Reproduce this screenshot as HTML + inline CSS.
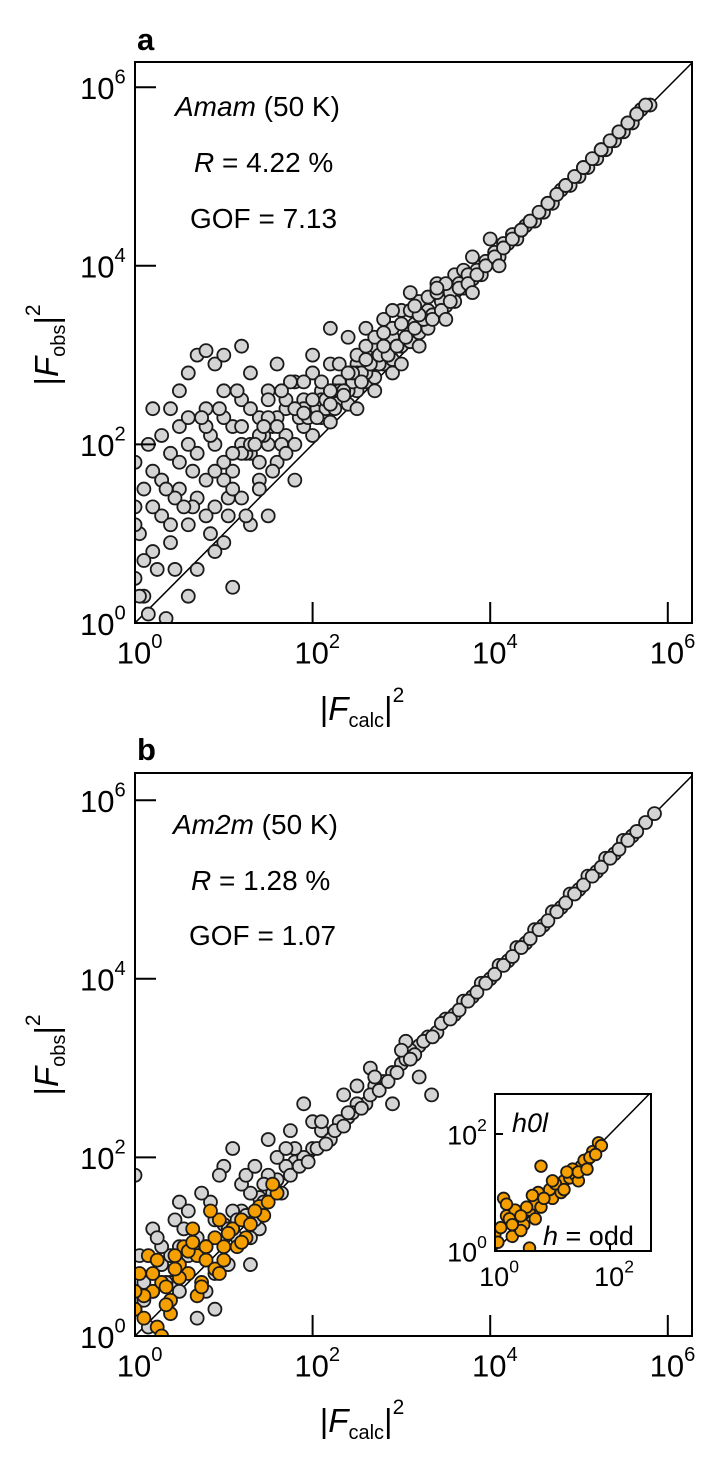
<!DOCTYPE html>
<html><head><meta charset="utf-8"><style>
body{margin:0;background:#fff}
svg{display:block;font-family:"Liberation Sans",Arial,sans-serif}
</style></head><body>
<svg id="fig" width="709" height="1459" viewBox="0 0 709 1459"></svg>
<script>
// log10 values (x = |Fcalc|^2, y = |Fobs|^2)
const ticksMain=[0,2,4,6];
const ticksInset=[0,2];
const aX=[2.0,2.1,2.2,2.3,2.4,2.5,2.6,2.7,2.8,2.9,3.0,3.1,3.2,3.3,3.4,3.5,3.6,3.7,3.8,3.9,4.0,4.1,4.2,4.3,4.4,4.5,4.6,4.7,4.8,4.9,5.0,5.1,5.2,5.3,5.4,5.5,5.6,5.7,5.8,
2.2,2.4,2.5,2.6,2.7,2.8,2.9,3.0,3.1,3.2,3.3,3.4,3.5,3.6,3.7,3.8,4.0,2.3,2.1,2.0,1.9,1.8,1.7,1.6,1.5,1.4,1.3,1.2,1.1,1.0,0.9,0.8,0.7,0.6,0.5,0.4,0.3,0.2,0.1,0.05,0.0,0.1,0.2,0.3,0.4,0.5,0.6,0.7,0.8,0.9,1.0,1.1,1.2,1.3,1.4,1.5,1.6,1.7,1.8,1.9,1.1,0.35,0.7,0.9,1.0,0.8,1.2,1.6,2.0,2.2,2.4,1.5,1.3,0.6,0.15,0.0,0.0,0.5,0.4,1.8,2.6,2.9,3.1,
1.25,1.45,1.65,1.85,2.05,2.25,2.45,2.65,2.85,3.05,3.25,3.45,3.65,3.85,4.05,4.25,4.45,4.65,4.85,5.05,5.25,5.45,5.65,1.0,1.2,1.4,0.6,0.8,0.3,0.2,0.9,1.7,1.9,2.1,2.3,2.5,2.7,0.45,0.65,0.85,1.05,1.55,1.75,1.95,2.15,2.35,2.55,2.75,2.95,3.15,3.35,3.55,3.75,3.95,4.15,4.35,
2.05,2.15,2.25,2.35,2.45,2.55,2.65,2.75,2.85,2.95,3.05,3.15,3.25,3.35,3.45,3.55,3.65,3.75,3.85,3.95,4.05,4.15,4.25,4.35,4.45,4.55,4.65,4.75,4.85,4.95,5.05,5.15,5.25,5.35,5.45,5.55,5.65,5.75,
1.0,1.1,1.2,1.3,1.4,1.5,1.6,1.7,1.8,1.9,2.0,2.1,2.2,2.3,2.4,2.5,2.6,2.7,2.8,2.9,3.0,3.1,3.2,3.3,3.4,3.5,
0.0,0.1,0.2,0.3,0.4,0.5,0.6,0.7,0.8,0.9,1.0,1.1,1.2,1.3,1.4,1.5,0.05,0.25,0.45,0.65,0.85,1.05,1.25,1.45,0.15,0.35,0.55,0.75,0.95,1.15,1.35,1.55,
2.5,2.7,2.9,3.0,3.2,3.5,3.8,4.1,2.2,2.35,2.6,2.8,3.15,3.4,1.9,1.65];
const aY=[2.1,2.3,2.25,2.5,2.45,2.6,2.7,2.75,2.9,2.95,3.1,3.15,3.25,3.3,3.45,3.55,3.6,3.75,3.85,3.9,4.05,4.1,4.25,4.3,4.45,4.5,4.6,4.7,4.85,4.9,5.0,5.1,5.2,5.3,5.4,5.5,5.6,5.75,5.8,
2.9,3.2,2.9,3.3,3.1,3.4,3.2,3.5,3.3,3.6,3.5,3.8,3.7,3.9,3.95,4.1,4.3,2.7,2.6,2.8,2.5,2.7,2.4,2.9,2.6,2.3,2.8,2.5,2.2,2.6,2.9,2.4,3.0,2.8,2.2,1.9,2.1,1.7,1.5,1.0,0.5,0.3,0.8,1.2,0.9,1.5,1.1,0.6,1.6,1.3,0.9,1.7,1.4,1.9,1.6,2.0,1.8,2.1,2.0,2.2,0.4,0.05,1.9,2.0,3.0,3.05,3.1,2.3,3.0,3.3,2.6,1.2,1.1,0.3,0.1,1.3,1.8,2.6,2.4,1.6,2.8,3.5,3.7,
1.9,2.1,2.0,2.3,2.4,2.6,2.7,2.9,3.0,3.2,3.4,3.6,3.8,3.95,4.15,4.35,4.5,4.7,4.9,5.1,5.3,5.5,5.7,1.8,2.0,1.5,2.3,1.2,1.6,2.4,0.8,1.9,2.4,2.5,2.6,2.8,2.95,1.4,1.7,2.1,1.4,2.2,2.7,2.3,2.4,2.6,2.8,2.9,3.1,3.35,3.45,3.7,3.9,4.05,4.25,4.4,
2.3,2.5,2.4,2.6,2.8,2.7,2.9,3.0,3.0,3.1,3.2,3.3,3.4,3.4,3.5,3.6,3.75,3.8,3.9,4.0,4.1,4.2,4.3,4.4,4.5,4.6,4.7,4.8,4.9,5.0,5.1,5.2,5.3,5.4,5.5,5.6,5.7,5.8,
1.6,1.5,1.9,2.0,2.1,2.3,2.2,2.5,2.4,2.7,2.5,2.7,2.6,2.9,2.8,3.0,3.1,3.2,3.1,3.3,3.35,3.5,3.45,3.65,3.7,3.8,
1.1,0.7,1.3,1.6,1.1,1.8,2.0,1.4,2.2,1.7,2.3,1.9,2.2,2.4,1.8,2.5,0.3,0.6,0.6,1.3,1.0,1.2,1.2,2.2,2.0,1.5,1.3,2.3,2.4,2.6,2.0,1.7,
2.4,2.6,2.8,2.9,3.1,3.4,3.7,4.0,2.45,2.55,2.95,3.25,3.55,3.75,2.35,2.6];
const bX=[0.0,0.2,0.4,0.6,0.8,1.0,1.2,1.4,1.6,1.8,2.0,2.2,2.4,2.6,2.8,3.0,3.2,3.4,3.6,3.8,4.0,4.2,4.4,4.6,4.8,5.0,5.2,5.4,5.6,5.75,
0.1,0.3,0.5,0.7,0.9,1.1,1.3,1.5,1.7,1.9,2.1,2.3,2.5,2.7,2.9,3.1,3.3,3.5,3.7,3.9,4.1,4.3,4.5,4.7,4.9,5.1,5.3,5.5,
0.2,0.5,0.8,1.0,1.2,1.5,1.8,2.0,1.3,0.9,0.6,0.4,1.6,1.9,0.3,1.1,3.34,2.9,3.2,2.2,2.5,1.4,0.0,0.7,0.15,1.75,2.35,2.65,3.05,
1.05,1.15,1.25,1.35,1.45,1.55,1.65,1.75,1.85,1.95,2.05,2.15,2.25,2.35,2.45,2.55,2.65,2.75,2.85,2.95,3.05,3.15,3.25,3.35,3.45,3.55,3.65,3.75,3.85,3.95,4.05,4.15,4.25,4.35,4.45,4.55,4.65,4.75,4.85,4.95,5.05,5.15,5.25,5.35,5.45,5.55,5.65,5.85,
0.05,0.25,0.45,0.65,0.85,1.05,1.25,1.45,0.35,0.55,0.75,0.95,1.15,1.35,0.1,0.5,0.9,1.3,1.7,2.1,2.4,2.7,3.0,3.1];
const bY=[0.3,0.5,0.6,0.9,1.0,1.25,1.4,1.55,1.75,1.95,2.1,2.25,2.45,2.6,2.85,3.05,3.25,3.4,3.6,3.8,4.0,4.2,4.4,4.6,4.8,5.0,5.2,5.4,5.6,5.75,
0.6,0.8,1.0,1.1,1.3,1.4,1.6,1.8,1.9,2.0,2.3,2.4,2.6,2.8,2.95,3.2,3.35,3.55,3.75,3.95,4.15,4.35,4.55,4.75,4.95,5.15,5.35,5.55,
1.2,1.5,0.5,1.9,1.7,2.2,2.1,2.4,0.8,0.3,1.4,0.9,2.0,2.6,1.0,2.1,2.7,2.6,2.9,2.2,2.8,1.2,1.8,0.2,0.1,2.3,2.7,3.0,3.3,
1.2,1.1,1.35,1.3,1.5,1.6,1.6,1.8,1.9,1.95,2.1,2.15,2.3,2.35,2.5,2.55,2.7,2.75,2.85,2.95,3.1,3.15,3.3,3.35,3.5,3.55,3.65,3.75,3.85,3.95,4.05,4.15,4.25,4.35,4.45,4.55,4.65,4.75,4.85,4.95,5.05,5.15,5.25,5.35,5.45,5.55,5.65,5.85,
0.9,1.1,1.3,1.0,1.5,0.8,1.8,1.7,0.6,1.2,1.6,1.8,1.3,1.9,0.4,0.5,0.7,1.1,2.1,2.4,2.5,2.9,3.2,3.1];
const bOX=[0.0,0.1,0.2,0.3,0.4,0.5,0.6,0.7,0.8,0.9,1.0,1.1,1.2,1.3,1.4,1.5,1.6,0.15,0.35,0.55,0.75,0.95,1.15,0.25,0.45,0.65,0.85,0.05,0.4,0.7,0.9,1.25,1.45,0.3,0.6,
0.2,0.5,0.8,1.05,1.35,0.1,0.45,0.75,1.0,1.2,0.35,0.65,0.95,1.55,0.0,0.25];
const bOY=[0.3,0.2,0.5,0.6,0.4,0.8,0.7,0.9,0.85,1.1,1.0,1.2,1.3,1.25,1.45,1.5,1.6,0.9,0.55,1.0,0.6,1.3,1.0,0.1,0.9,1.2,1.4,0.7,0.25,0.45,0.75,1.1,1.35,0.0,0.95,
0.7,0.65,1.0,1.15,1.4,0.45,0.75,0.55,0.85,1.05,0.35,1.05,0.7,1.7,0.5,0.85];
const iX=[0.0,0.1,0.2,0.3,0.4,0.5,0.6,0.7,0.8,0.9,1.0,1.1,1.2,1.3,1.4,1.5,1.6,1.7,1.8,1.85,0.15,0.35,0.55,0.75,0.95,1.15,1.35,1.55,0.25,0.45,0.65,1.05,1.25,0.8,0.05,1.45,1.65,0.6,
0.2,0.45,0.85,1.0,1.2,1.45,1.6,1.75,0.3,0.7];
const iY=[0.3,0.4,0.6,0.25,0.5,0.45,0.7,0.8,0.75,0.95,0.9,1.1,1.2,1.25,1.3,1.45,1.55,1.7,1.85,1.8,0.9,0.7,0.75,1.0,1.05,1.0,1.4,1.55,0.55,0.35,0.95,1.15,1.35,1.45,0.15,1.2,1.6,0.05,
0.8,0.6,0.9,1.2,1.05,1.35,1.4,1.65,0.45,0.55];

const NS="http://www.w3.org/2000/svg";
const svg=document.getElementById('fig');
function mk(tag,attrs,parent){const e=document.createElementNS(NS,tag);for(const k in attrs)e.setAttribute(k,attrs[k]);(parent||svg).appendChild(e);return e;}

function panel(opt){
  const g=mk('g',{});
  
  
  const L=opt.left,R=opt.right,T=opt.top,B=opt.bottom,dx=opt.dx,dy=opt.dy,maxD=opt.maxD;
  const sx=v=>L+v*dx, sy=v=>B-v*dy;
  const cp='cp'+opt.name;
  const defs=mk('defs',{},g);const c=mk('clipPath',{id:cp},defs);mk('rect',{x:L,y:T,width:R-L,height:B-T},c);
  const d=mk('line',{x1:sx(0),y1:sy(0),x2:sx(maxD),y2:sy(maxD),stroke:'#000','stroke-width':1.5,'clip-path':`url(#${cp})`},g);
  
  
  opt.series.forEach(s=>{
    const sg=mk('g',{'clip-path':`url(#${cp})`},g);
    
    
    s.x.forEach((v,i)=>{
      const p=mk('circle',{cx:sx(v),cy:sy(s.y[i]),r:opt.r,fill:s.fill,stroke:'#1a1a1a','stroke-width':1.8},sg);
      
      
    });
  });
  const box=mk('rect',{x:L,y:T,width:R-L,height:B-T,fill:'none',stroke:'#000','stroke-width':2},g);
  
  
  opt.ticks.forEach(t=>{
    const ty=mk('line',{x1:L,x2:L+opt.tl,y1:sy(t),y2:sy(t),stroke:'#000','stroke-width':2},g);
    
    
    const tx=mk('line',{x1:sx(t),x2:sx(t),y1:B,y2:B-opt.tl,stroke:'#000','stroke-width':2},g);
    
    
    const ly=mk('text',{x:L-opt.fs*0.3,y:sy(t)+opt.fs*0.38,'text-anchor':'end','font-size':opt.fs},g);
    
    
    ly.innerHTML=`10<tspan dy="${-opt.fs*0.5}" font-size="${opt.fs*0.65}">${t}</tspan>`;
    const lx=mk('text',{x:sx(t)+opt.fs*0.15,y:B+opt.fs*1.3,'text-anchor':'middle','font-size':opt.fs},g);
    
    
    lx.innerHTML=`10<tspan dy="${-opt.fs*0.5}" font-size="${opt.fs*0.65}">${t}</tspan>`;
  });
  return g;
}
function txt(x,y,html,size,name,extra){const t=mk('text',Object.assign({x:x,y:y,'font-size':size},extra||{}));t.innerHTML=html;return t;}

// Panel a
panel({name:'panel-a',left:135,right:692,top:62,bottom:623,dx:88.8,dy:89.3,maxD:6.3,r:6.5,fs:31,tl:21,ticks:ticksMain,
  series:[{name:'series-a',x:aX,y:aY,fill:'#d4d4d4'}]});
txt(137,50,'a',31,'panel-label-a',{'font-weight':'bold'});
txt(175,116,'<tspan font-style="italic">Amam</tspan> (50 K)',28,'space-group-label-a');
txt(194,172,'<tspan font-style="italic">R</tspan> = 4.22 %',28,'r-factor-a');
txt(190,228,'GOF = 7.13',28,'gof-a');
txt(362,720,'|<tspan font-style="italic">F</tspan><tspan font-size="20" dy="7">calc</tspan><tspan dy="-7">|</tspan><tspan font-size="21" dy="-18">2</tspan>',33,'x-axis-title-a',{'text-anchor':'middle'});
txt(0,0,'|<tspan font-style="italic">F</tspan><tspan font-size="20" dy="7">obs</tspan><tspan dy="-7">|</tspan><tspan font-size="21" dy="-18">2</tspan>',33,'y-axis-title-a',{'text-anchor':'middle',transform:'translate(58,345) rotate(-90)'});

// Panel b
panel({name:'panel-b',left:135,right:692,top:773,bottom:1336,dx:88.8,dy:89.3,maxD:6.3,r:6.5,fs:31,tl:21,ticks:ticksMain,
  series:[{name:'series-b-all',x:bX,y:bY,fill:'#d4d4d4'},{name:'series-b-h0l',x:bOX,y:bOY,fill:'#f5a000'}]});
txt(137,760,'b',31,'panel-label-b',{'font-weight':'bold'});
txt(173,834,'<tspan font-style="italic">Am2m</tspan> (50 K)',28,'space-group-label-b');
txt(191,890,'<tspan font-style="italic">R</tspan> = 1.28 %',28,'r-factor-b');
txt(189,945,'GOF = 1.07',28,'gof-b');
txt(362,1432,'|<tspan font-style="italic">F</tspan><tspan font-size="20" dy="7">calc</tspan><tspan dy="-7">|</tspan><tspan font-size="21" dy="-18">2</tspan>',33,'x-axis-title-b',{'text-anchor':'middle'});
txt(0,0,'|<tspan font-style="italic">F</tspan><tspan font-size="20" dy="7">obs</tspan><tspan dy="-7">|</tspan><tspan font-size="21" dy="-18">2</tspan>',33,'y-axis-title-b',{'text-anchor':'middle',transform:'translate(58,1055) rotate(-90)'});

// Inset
const ib=mk('rect',{x:495,y:1094,width:156,height:157,fill:'#fff'});


panel({name:'inset-h0l',left:495,right:651,top:1094,bottom:1251,dx:57.5,dy:58.5,maxD:2.8,r:5.8,fs:27,tl:8,ticks:ticksInset,
  series:[{name:'series-inset-h0l',x:iX,y:iY,fill:'#f5a000'}]});
txt(512,1132,'h0l',27,'inset-label-h0l',{'font-style':'italic'});
txt(543,1245,'<tspan font-style="italic">h</tspan> = odd',27,'inset-label-h-odd');
</script>
</body></html>
